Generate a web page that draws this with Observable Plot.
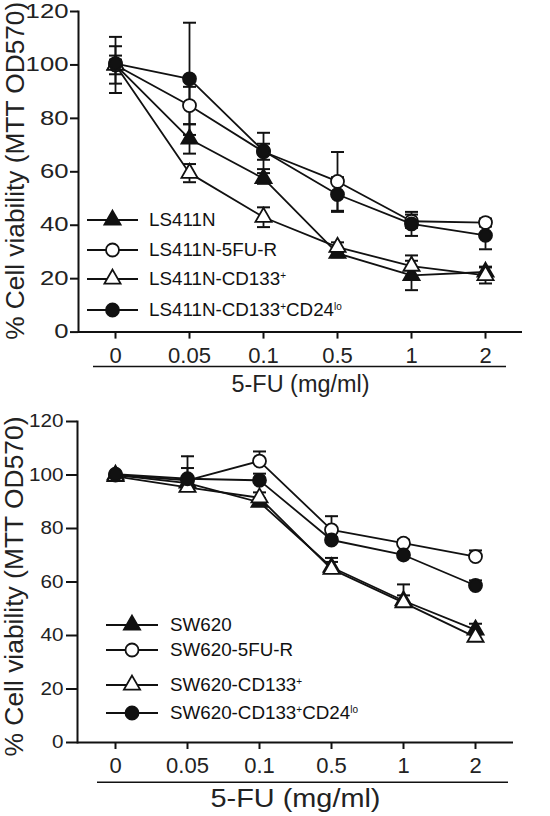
<!DOCTYPE html>
<html><head><meta charset="utf-8">
<script src="https://cdn.jsdelivr.net/npm/d3@7"></script>
<script src="https://cdn.jsdelivr.net/npm/@observablehq/plot@0.6"></script>
<style>
body{margin:0;background:#fff;font-family:"Liberation Sans",Arial,sans-serif;}
#wrap{position:relative;width:550px;height:816px;overflow:hidden;background:#fff}
.chart{position:relative;width:550px}
.chart svg{display:block}
.leg{position:absolute;display:flex;align-items:center;font-size:18.8px;color:#111;white-space:nowrap;line-height:1}
.leg svg{display:block;overflow:visible}
.leg sup{font-size:10px;vertical-align:0.6em;line-height:0}
</style></head><body><div id="wrap"></div>
<script>
// ---- data ----
const doses = ["0", "0.05", "0.1", "0.5", "1", "2"];
const yTicks = [0, 20, 40, 60, 80, 100, 120];
const yLabel = "% Cell viability (MTT OD570)";
const xLabel = "5-FU (mg/ml)";

const topNames = ["LS411N", "LS411N-5FU-R", "LS411N-CD133+", "LS411N-CD133+CD24lo"];
const topLS411N      = [100.0, 72.3, 57.5, 29.5, 21.2, 22.5];
const topLS411NErr   = [10.5, 5.5, 2.0, 1.5, 5.5, 2.0];
const top5FUR        = [100.0, 84.8, 67.5, 56.4, 41.5, 41.0];
const top5FURErr     = [7.0, 7.0, 3.0, 11.0, 2.5, 1.5];
const topCD133       = [100.0, 59.5, 43.0, 31.8, 24.7, 21.2];
const topCD133Err    = [3.5, 3.4, 3.7, 1.8, 4.0, 3.0];
const topCD24lo      = [100.5, 94.8, 67.8, 51.5, 40.5, 36.2];
const topCD24loErr   = [1.5, 21.0, 6.8, 6.5, 4.5, 5.2];

const botNames = ["SW620", "SW620-5FU-R", "SW620-CD133+", "SW620-CD133+CD24lo"];
const botSW620       = [100.0, 97.0, 89.8, 65.5, 53.0, 42.1];
const botSW620Err    = [0.5, 1.0, 1.5, 2.0, 2.0, 2.3];
const bot5FUR        = [100.0, 98.0, 105.2, 79.5, 74.5, 69.5];
const bot5FURErr     = [0.5, 9.0, 3.6, 5.1, 1.3, 2.3];
const botCD133       = [99.5, 95.4, 91.5, 64.8, 52.3, 39.4];
const botCD133Err    = [0.5, 1.0, 2.0, 4.2, 6.8, 1.0];
const botCD24lo      = [100.3, 98.6, 98.0, 75.7, 70.1, 58.7];
const botCD24loErr   = [0.5, 4.0, 2.5, 1.0, 1.0, 1.9];

// ---- styles ----
const INK = "#111";
const FONT = '"Liberation Sans", Arial, sans-serif';
const seriesStyle = [
  {symbol: "triangle", fill: INK},
  {symbol: "circle", fill: "white"},
  {symbol: "triangle", fill: "white"},
  {symbol: "circle", fill: INK}
];
const markR = {triangle: 6, circle: 6.5};
const capSymbol = {
  draw(context, size) {
    const w = Math.sqrt(size / Math.PI);
    context.moveTo(-w, 0);
    context.lineTo(w, 0);
  }
};

function fmtName(s) {
  return s.replace(/\+/g, "<sup>+</sup>").replace(/lo$/, "<sup>lo</sup>");
}

function stretch(t, len) {
  t.setAttribute("textLength", len);
  t.setAttribute("lengthAdjust", "spacingAndGlyphs");
}

function makeChart(c) {
  const rows = [];
  c.names.forEach((name, i) => c.values[i].forEach((v, j) =>
    rows.push({series: name, k: i, dose: doses[j], value: v, err: c.errs[i][j]})));
  const marks = [
    Plot.ruleY([0], {stroke: INK, strokeWidth: 2}),
    Plot.frame({anchor: "left", stroke: INK, strokeWidth: 2}),
    Plot.ruleY([0], {dy: c.ulDy, insetLeft: c.ulL, insetRight: c.ulR, stroke: INK, strokeWidth: 1.6}),
    Plot.axisX({tickSize: 7, tickPadding: 8, fontSize: c.xFont, stroke: INK, strokeWidth: 2, fill: "#222", label: null}),
    Plot.axisY({ticks: yTicks, tickSize: c.yTick, tickPadding: c.yPad, fontSize: c.yFont, stroke: INK, strokeWidth: 2, fill: "#222", label: null}),
    Plot.text([yLabel], {text: d => d, frameAnchor: "left", rotate: -90, dx: -63, dy: c.yLabDy, fontSize: 25, textAnchor: "middle", lineAnchor: "middle", fill: "#222"}),
    Plot.text([xLabel], {text: d => d, frameAnchor: "bottom", dy: c.xTitleDy, fontSize: c.xTitleFont, lineAnchor: "middle", fill: "#222"}),
    Plot.line(rows, {x: "dose", y: "value", z: "series", stroke: INK, strokeWidth: 1.8}),
    Plot.ruleX(rows, {x: "dose", y1: d => c.both ? d.value - d.err : d.value, y2: d => d.value + d.err, stroke: INK, strokeWidth: 1.8}),
    Plot.dot(rows, {x: "dose", y: d => d.value + d.err, symbol: capSymbol, r: 6.5, fill: "none", stroke: INK, strokeWidth: 2}),
    ...(c.both ? [Plot.dot(rows, {x: "dose", y: d => d.value - d.err, symbol: capSymbol, r: 6.5, fill: "none", stroke: INK, strokeWidth: 2})] : []),
    ...c.names.map((name, i) => Plot.dot(rows.filter(d => d.k === i), {
      x: "dose", y: "value", symbol: seriesStyle[i].symbol, fill: seriesStyle[i].fill,
      stroke: INK, strokeWidth: 1.8, r: markR[seriesStyle[i].symbol]
    }))
  ];
  const svg = Plot.plot({
    width: 550, height: c.height,
    marginTop: c.mt, marginBottom: c.mb, marginLeft: c.ml, marginRight: c.mr,
    x: {type: "point", domain: doses, padding: 0.5},
    y: {domain: [0, 120]},
    style: {fontFamily: FONT, background: "white", color: INK, overflow: "visible"},
    marks
  });
  svg.querySelectorAll("text").forEach(t => {
    const s = t.textContent;
    if (s === yLabel) stretch(t, c.yLabLen);
    else if (s === xLabel) stretch(t, c.xTitleLen);
    else if (yTicks.map(String).includes(s) && t.closest('g[aria-label="y-axis tick label"]')) stretch(t, s.length * c.yDigitW);
  });
  const box = document.createElement("div");
  box.className = "chart";
  box.style.height = c.height + "px";
  box.appendChild(svg);
  c.names.forEach((name, i) => {
    const row = document.createElement("div");
    row.className = "leg";
    row.style.left = c.leg.x0 + "px";
    row.style.top = (c.leg.rows[i] - 10) + "px";
    const w = c.leg.x1 - c.leg.x0;
    const st = seriesStyle[i];
    const sym = st.symbol === "triangle"
      ? `<path transform="translate(${w / 2},10)" d="${d3.symbol(d3.symbolTriangle, Math.PI * markR.triangle ** 2)()}" fill="${st.fill}" stroke="${INK}" stroke-width="1.8"/>`
      : `<circle cx="${w / 2}" cy="10" r="${markR.circle}" fill="${st.fill}" stroke="${INK}" stroke-width="1.8"/>`;
    row.innerHTML = `<svg width="${w}" height="20"><line x1="0" x2="${w}" y1="10" y2="10" stroke="${INK}" stroke-width="1.8"/>${sym}</svg><span style="margin-left:${c.leg.tx - c.leg.x1}px">${fmtName(name)}</span>`;
    box.appendChild(row);
  });
  return box;
}

const wrap = document.getElementById("wrap");
wrap.appendChild(makeChart({
  names: topNames,
  values: [topLS411N, top5FUR, topCD133, topCD24lo],
  errs: [topLS411NErr, top5FURErr, topCD133Err, topCD24loErr],
  both: true, height: 405, mt: 11, mb: 73.4, ml: 78, mr: 28,
  ulDy: 34.4, ulL: 15, ulR: 16, xFont: 22, yFont: 19.5, yDigitW: 14.3, yTick: 8, yPad: 2,
  yLabDy: -1, yLabLen: 338, xTitleDy: 52.4, xTitleFont: 23, xTitleLen: 138,
  leg: {x0: 87, x1: 138, tx: 149, rows: [220, 250, 279.3, 310]}
}));
wrap.appendChild(makeChart({
  names: botNames,
  values: [botSW620, bot5FUR, botCD133, botCD24lo],
  errs: [botSW620Err, bot5FURErr, botCD133Err, botCD24loErr],
  both: false, height: 411, mt: 16, mb: 74, ml: 77, mr: 37,
  ulDy: 39.7, ulL: 20, ulR: 5, xFont: 22, yFont: 18, yDigitW: 11.5, yTick: 11, yPad: 3,
  yLabDy: 4.5, yLabLen: 340, xTitleDy: 56, xTitleFont: 25, xTitleLen: 170,
  leg: {x0: 106, x1: 158, tx: 170, rows: [220, 245, 280, 308.3]}
}));
</script></body></html>
